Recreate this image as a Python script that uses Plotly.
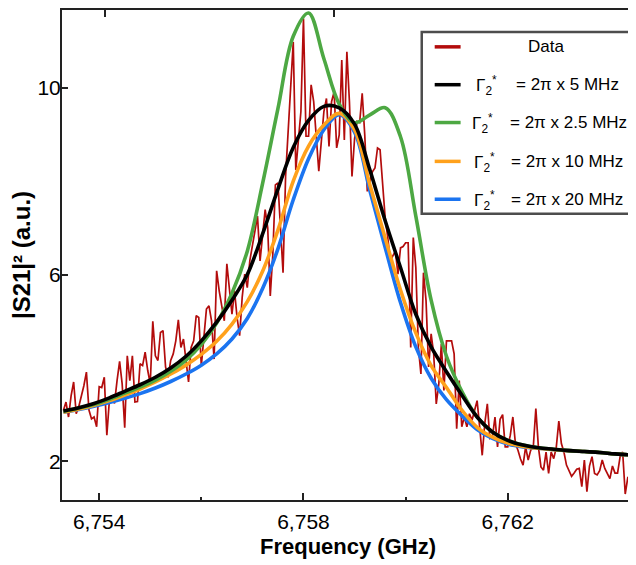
import plotly.graph_objects as go

# ---------------- data ----------------
data_freq_start = 6.75330   # GHz
data_freq_step = 0.00005    # GHz
data_s21 = [
    3.09, 3.27, 2.95, 3.40, 3.70, 3.02, 3.17, 3.38, 3.62, 3.91,
    3.10, 2.91, 2.95, 2.74, 3.60, 3.58, 3.80, 2.56, 3.31, 3.41,
    3.24, 3.73, 4.14, 3.66, 2.72, 4.26, 3.73, 4.26, 3.27, 3.28,
    4.09, 4.05, 4.34, 3.95, 3.66, 5.00, 4.26, 4.16, 4.76, 4.80,
    4.02, 3.80, 4.16, 4.30, 4.58, 5.03, 4.44, 4.62, 4.09, 3.70,
    4.44, 4.58, 5.12, 5.08, 4.05, 4.58, 5.26, 5.33, 5.01, 4.19,
    6.08, 5.65, 5.29, 5.01, 6.23, 5.72, 5.15, 5.65, 5.08, 4.69,
    5.51, 6.01, 5.72, 6.30, 6.65, 7.00, 7.25, 6.29, 6.86, 7.39,
    7.00, 5.54, 6.43, 7.92, 7.96, 6.86, 6.04, 8.10, 9.10, 10.10,
    10.98, 8.24, 8.85, 9.49, 11.48, 8.96, 8.96, 10.06, 9.70, 8.85,
    8.21, 8.85, 9.49, 9.77, 8.74, 9.70, 9.91, 8.71, 8.99, 10.59,
    8.88, 10.77, 9.70, 8.10, 8.90, 9.28, 9.25, 9.88, 8.99, 7.78,
    8.00, 8.20, 8.28, 8.71, 8.67, 7.85, 7.21, 6.80, 6.29, 6.40,
    6.50, 6.01, 6.57, 6.60, 6.68, 6.68, 4.44, 6.79, 6.15, 4.44,
    3.87, 6.04, 5.44, 4.02, 4.73, 4.30, 3.23, 3.66, 4.51, 3.52,
    4.58, 4.58, 4.58, 4.30, 2.70, 3.73, 2.74, 2.95, 2.74, 3.02,
    2.88, 3.09, 3.30, 2.74, 2.13, 2.81, 3.23, 2.49, 2.52, 2.95,
    2.31, 2.90, 3.00, 2.31, 2.31, 2.56, 2.95, 2.38, 2.24, 2.05,
    1.92, 2.31, 2.03, 2.24, 2.31, 3.13, 2.31, 1.88, 1.81, 2.20,
    1.74, 2.20, 2.06, 2.30, 2.86, 2.38, 2.20, 1.92, 1.80, 1.68,
    1.75, 1.83, 1.85, 1.46, 2.03, 1.35, 1.90, 2.10, 1.74, 1.71,
    1.80, 2.03, 1.85, 1.75, 1.63, 1.90, 1.75, 1.75, 2.10, 2.20,
    1.30, 1.65, 1.71, 2.35,
]
data_freq = [round(data_freq_start + i * data_freq_step, 6) for i in range(len(data_s21))]

fit_freq_start = 6.7533
fit_freq_step = 0.0003
fit_5mhz = [3.08, 3.15, 3.24, 3.36, 3.50, 3.64, 3.80, 4.00, 4.25, 4.58,
            4.98, 5.45, 6.00, 6.87, 7.83, 8.72, 9.30, 9.60, 9.57, 9.22,
            8.24, 7.15, 6.15, 5.15, 4.45, 3.92, 3.42, 2.95, 2.63, 2.45,
            2.35, 2.29, 2.26, 2.23, 2.21, 2.19, 2.16, 2.14, 2.13]
fit_2p5mhz = [3.07, 3.14, 3.22, 3.33, 3.46, 3.59, 3.74, 3.93, 4.17, 4.50,
              4.96, 5.60, 6.50, 7.95, 9.55, 11.10, 11.60, 10.62, 9.65, 9.25,
              9.42, 9.57, 8.95, 7.25, 5.45, 4.25, 3.50, 2.95, 2.63, 2.45,
              2.35, 2.29, 2.26, 2.23, 2.21, 2.19, 2.16, 2.14, 2.13]
fit_10mhz = [3.05, 3.12, 3.20, 3.30, 3.42, 3.55, 3.70, 3.87, 4.06, 4.29,
             4.57, 4.94, 5.42, 6.07, 6.95, 8.00, 8.75, 9.20, 9.45, 9.10,
             7.92, 6.78, 5.67, 4.75, 4.05, 3.58, 3.10, 2.73, 2.52, 2.39,
             2.32, 2.28, 2.25, 2.23, 2.21, 2.19, 2.16, 2.14, 2.13]
fit_20mhz = [3.05, 3.11, 3.18, 3.26, 3.35, 3.45, 3.57, 3.71, 3.87, 4.06,
             4.30, 4.62, 5.06, 5.70, 6.55, 7.60, 8.48, 9.10, 9.42, 9.05,
             7.80, 6.58, 5.40, 4.45, 3.78, 3.32, 2.98, 2.68, 2.49, 2.37,
             2.31, 2.28, 2.25, 2.23, 2.21, 2.19, 2.16, 2.14, 2.13]
fit_freq = [round(fit_freq_start + k * fit_freq_step, 6) for k in range(len(fit_5mhz))]

x_tick_vals = [6.754, 6.758, 6.762]
x_tick_text = ["6,754", "6,758", "6,762"]
x_minor_vals = [6.756, 6.760]
top_tick_vals = [6.75411, 6.75860]
y_tick_vals = [2, 6, 10]
y_tick_text = ["2", "6", "10"]

legend_labels = ["Data", "= 2π x 5 MHz", "= 2π x 2.5 MHz", "= 2π x 10 MHz", "= 2π x 20 MHz"]

# ---------------- style ----------------
RED = "#B30C0C"
BLACK = "#000000"
GREEN = "#4DA843"
ORANGE = "#FFA11C"
BLUE = "#1B74F0"
FONT = "Liberation Sans, Arial, sans-serif"

OFF = 8                      # page body margin of the html page
W, H = 636 - OFF, 565 - OFF
ML, MR, MT, MB = 62 - OFF, 0, 0, 65
x_range = [6.753272, 6.764472]
y_range = [1.173, 11.663]

fig = go.Figure()
fig.add_trace(go.Scatter(x=data_freq, y=data_s21, mode="lines",
                         line=dict(color=RED, width=1.7), name="Data"))
fits = [(fit_20mhz, BLUE), (fit_10mhz, ORANGE), (fit_2p5mhz, GREEN), (fit_5mhz, BLACK)]
for vals, col in fits:
    fig.add_trace(go.Scatter(x=fit_freq, y=vals, mode="lines",
                             line=dict(color=col, width=3.6, shape="spline", smoothing=1.0)))
# invisible trace for top axis
fig.add_trace(go.Scatter(x=x_range, y=[y_range[0]] * 2, xaxis="x2", mode="lines",
                         line=dict(width=0), hoverinfo="skip"))

# ------- manual legend (screen pixel positions) -------
pw = W - ML - MR
ph = H - MT - MB
def px2x(px):
    return (px - OFF - ML) / pw
def py2y(py):
    return (H - MB - (py - OFF)) / ph

shapes = []
annotations = []
shapes.append(dict(type="rect", xref="paper", yref="paper",
                   x0=px2x(423), x1=px2x(631.5), y0=py2y(212.5), y1=py2y(30),
                   line=dict(color="#4d4d4d", width=2.5), fillcolor="white", layer="above"))
row_y = [45, 83, 121, 160, 198]
row_cols = [RED, BLACK, GREEN, ORANGE, BLUE]
gamma_x = [475, 471, 473, 473]
eq_x = [516, 510, 511, 511]
for j, (yy, col) in enumerate(zip(row_y, row_cols)):
    shapes.append(dict(type="line", xref="paper", yref="paper",
                       x0=px2x(436), x1=px2x(462), y0=py2y(yy), y1=py2y(yy),
                       line=dict(color=col, width=3.5), layer="above"))
    if j == 0:
        annotations.append(dict(x=px2x(548), y=py2y(yy), xref="paper", yref="paper",
                                text=legend_labels[0], showarrow=False, xanchor="center",
                                yanchor="middle", font=dict(size=17, color="black", family=FONT)))
    else:
        annotations.append(dict(x=px2x(gamma_x[j - 1]), y=py2y(yy + 1), xref="paper", yref="paper",
                                text="Γ<sub>2</sub><sup>*</sup>", showarrow=False, xanchor="left",
                                yanchor="middle", font=dict(size=17, color="black", family=FONT)))
        annotations.append(dict(x=px2x(eq_x[j - 1]), y=py2y(yy), xref="paper", yref="paper",
                                text=legend_labels[j], showarrow=False, xanchor="left",
                                yanchor="middle", font=dict(size=17, color="black", family=FONT)))

fig.update_layout(
    width=W, height=H,
    margin=dict(l=ML, r=MR, t=MT, b=MB, pad=0),
    paper_bgcolor="white", plot_bgcolor="white",
    showlegend=False,
    font=dict(family=FONT, color="black"),
    shapes=shapes, annotations=annotations,
    xaxis=dict(range=x_range, tickvals=x_tick_vals, ticktext=x_tick_text,
               ticks="inside", ticklen=7, tickwidth=1.5, tickcolor="#222",
               showline=True, linecolor="#222", linewidth=2, mirror=True,
               showgrid=False, zeroline=False, ticklabelstandoff=2,
               tickfont=dict(size=21, family=FONT, color="black"),
               minor=dict(tickvals=x_minor_vals, ticks="inside", ticklen=3, tickcolor="#222"),
               title=dict(text="<b>Frequency (GHz)</b>", font=dict(size=22, family=FONT, color="black"),
                          standoff=6)),
    xaxis2=dict(range=x_range, overlaying="x", side="top", anchor="y",
                tickvals=top_tick_vals, ticks="inside", ticklen=7, tickwidth=1.5, tickcolor="#222",
                showticklabels=False, showline=False, showgrid=False, zeroline=False),
    yaxis=dict(range=y_range, tickvals=y_tick_vals, ticktext=y_tick_text,
               ticks="inside", ticklen=6, tickwidth=1.5, tickcolor="#222",
               showline=True, linecolor="#222", linewidth=2, mirror="ticks",
               showgrid=False, zeroline=False, ticklabelstandoff=-5,
               tickfont=dict(size=21, family=FONT, color="black"),
               title=dict(text="<b>|S21|² (a.u.)</b>", font=dict(size=24, family=FONT, color="black"),
                          standoff=12)),
)

fig.write_html("out.html")
